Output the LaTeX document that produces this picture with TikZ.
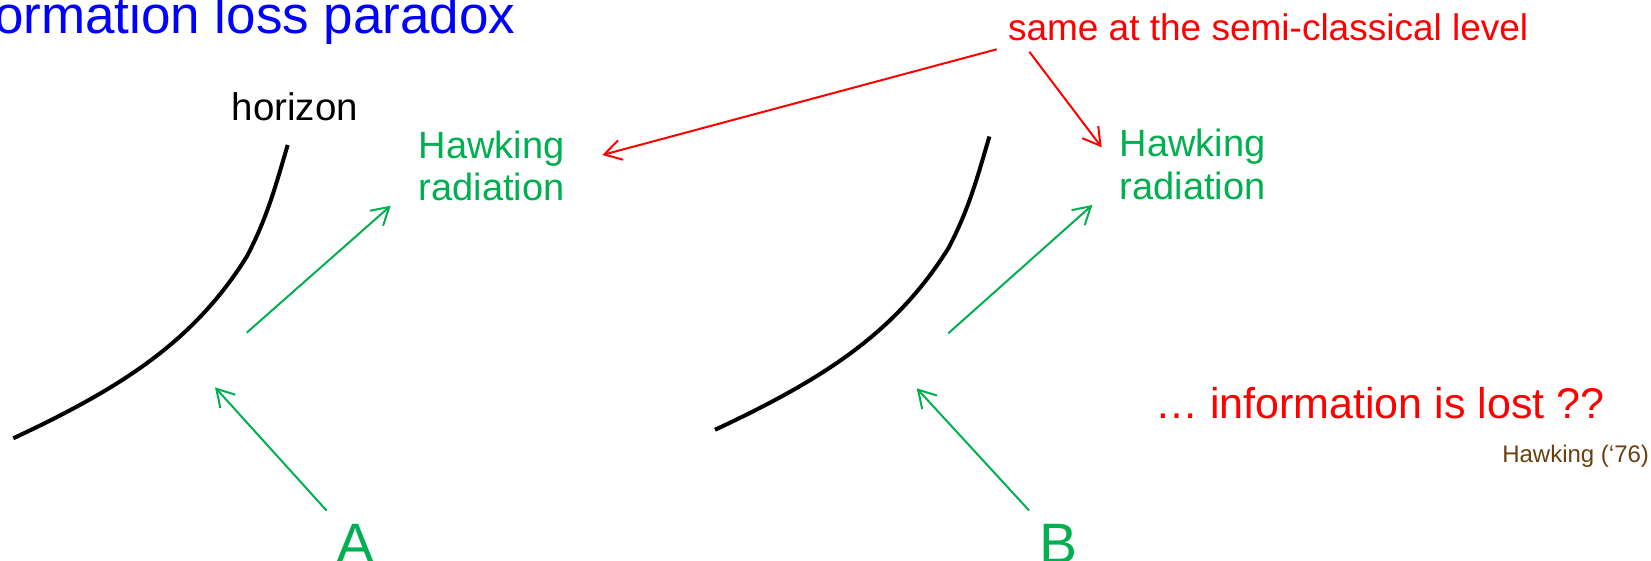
\documentclass[tikz,border=0pt]{standalone}
\usepackage{fontspec}
\setmainfont{Liberation Sans}
\usetikzlibrary{arrows.meta}
\definecolor{pgreen}{HTML}{00B050}
\definecolor{pblue}{HTML}{0000FF}
\definecolor{pred}{HTML}{FF0000}
\definecolor{pbrown}{HTML}{6B3E0F}
\tikzset{
  lbl/.style={inner sep=0pt, outer sep=0pt},
  horizonline/.style={draw=black, line width=4pt, line cap=butt, line join=round},
  greenarr/.style={draw=pgreen, line width=2pt, -{Straight Barb[length=17pt,width=20pt]}},
  redarr/.style={draw=pred, line width=2pt, -{Straight Barb[length=17pt,width=20pt]}},
}
\begin{document}
\begin{tikzpicture}[x=1pt,y=-1pt]
\useasboundingbox (0,0) rectangle (1651,561);

% title
\node[lbl, anchor=base east, text=pblue, font=\fontsize{53}{60}\selectfont] (title) at (515.5,33.3) {ormation loss paradox};

% labels
\node[lbl, anchor=base west, font=\fontsize{38.5}{44}\selectfont] (horizon) at (231.6,121) {horizon};
\node[lbl, anchor=base west, text=pgreen, font=\fontsize{38}{42.4}\selectfont] (hawkL) at (418.7,158.3) {\vtop{\hbox{Hawking}\hbox{radiation}}};
\node[lbl, anchor=base west, text=pgreen, font=\fontsize{38}{42.6}\selectfont] (hawkR) at (1119.7,156.9) {\vtop{\hbox{Hawking}\hbox{radiation}}};
\node[lbl, anchor=base west, text=pred, font=\fontsize{37}{42}\selectfont] (same) at (1008,40.7) {same at the semi-classical level};
\node[lbl, anchor=base east, text=pred, font=\fontsize{43}{48}\selectfont] (lost) at (1604.5,418) {… information is lost ??};
\node[lbl, anchor=base east, text=pbrown, font=\fontsize{24}{28}\selectfont] (cite) at (1649,462.7) {Hawking (‘76)};
\node[lbl, anchor=base, text=pgreen, font=\fontsize{57}{64}\selectfont] (A) at (356,563.5) {A};
\node[lbl, anchor=base, text=pgreen, font=\fontsize{57}{64}\selectfont] (B) at (1058,563.5) {B};

% horizons
\draw[horizonline] (13.3,438.3) .. controls (122,387.4) and (193.7,341.5) .. (246.7,256.7)
  .. controls (267.7,216.9) and (276.3,183.3) .. (287.7,145);
\begin{scope}[shift={(701.7,-8.5)}]
\draw[horizonline] (13.3,438.3) .. controls (122,387.4) and (193.7,341.5) .. (246.7,256.7)
  .. controls (267.7,216.9) and (276.3,183.3) .. (287.7,145);
\end{scope}

% connector end points
\coordinate (Atail) at (326.7,510.7);
\coordinate (Ain) at (215,387.3);
\coordinate (Aout0) at (246.7,332.7);
\coordinate (Aout1) at (390.7,205.7);
\coordinate (Btail) at (1029,510.4);
\coordinate (Bin) at (916.7,388.3);
\coordinate (Bout0) at (948.3,333.3);
\coordinate (Bout1) at (1092.3,205);
\coordinate (sL) at (996.7,49.3);
\coordinate (sR) at (1029.3,51.7);
\coordinate (tL) at (602.3,155);
\coordinate (tR) at (1101.7,147.3);

% green arrows
\draw[greenarr] (Atail) -- (Ain);
\draw[greenarr] (Aout0) -- (Aout1);
\draw[greenarr] (Btail) -- (Bin);
\draw[greenarr] (Bout0) -- (Bout1);

% red arrows
\draw[redarr] (sL) -- (tL);
\draw[redarr] (sR) -- (tR);
\end{tikzpicture}
\end{document}
